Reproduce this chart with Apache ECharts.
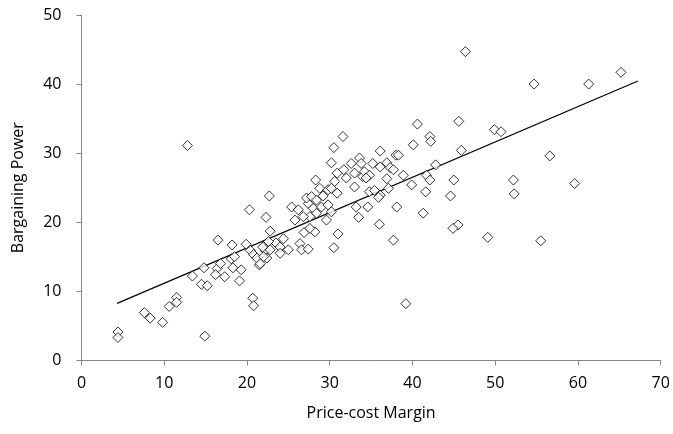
<!DOCTYPE html>
<html>
<head>
<meta charset="utf-8">
<script src="https://cdn.jsdelivr.net/npm/echarts@6/dist/echarts.min.js"></script>
<style>
  html, body { margin: 0; padding: 0; background: #fff; }
  #chart { width: 673px; height: 434px; }
</style>
</head>
<body>
<div id="chart"></div>
<script>
// price-cost margin (x) and bargaining power (y)
const margin = [
  4.4, 4.4, 7.6, 8.3, 9.8, 10.6, 11.5, 11.5, 12.8, 13.4,
  14.5, 15.2, 14.8, 14.9, 16.5, 16.4, 16.2, 17.3, 16.8, 18.2,
  18.1, 18.5, 18.3, 19.1, 19.3, 20.3, 19.9, 20.7, 20.8, 20.4,
  20.8, 21.2, 21.5, 22.2, 22.3, 22.7, 22.4, 22.8, 22.0, 21.6,
  22.8, 23.5, 22.6, 21.9, 24.4, 24.0, 24.0, 25.0, 26.4, 26.6,
  27.4, 26.9, 28.2, 27.6, 31.0, 30.5, 25.4, 26.2, 27.4, 28.0,
  29.0, 30.2, 29.8, 27.6, 28.4, 25.8, 26.8, 29.6, 27.2, 27.8,
  28.4, 29.2, 28.8, 29.8, 30.2, 30.9, 30.6, 28.3, 30.9, 30.2,
  30.5, 31.6, 31.7, 32.0, 32.6, 33.0, 33.6, 34.0, 33.0, 33.8,
  35.2, 36.1, 36.9, 37.3, 37.7, 34.2, 34.8, 34.4, 36.9, 36.1,
  38.0, 38.3, 34.8, 36.1, 35.9, 35.4, 37.1, 33.2, 34.6, 38.1,
  33.5, 36.0, 37.7, 39.2, 38.9, 39.9, 40.1, 40.6, 41.7, 42.1,
  41.6, 41.3, 42.1, 42.2, 42.8, 44.6, 45.0, 45.6, 45.9, 45.5,
  44.9, 46.4, 49.1, 49.9, 50.7, 52.2, 52.3, 54.7, 55.5, 56.6,
  59.6, 61.3, 65.2
];
const power = [
  4.1, 3.3, 6.9, 6.1, 5.5, 7.8, 9.1, 8.4, 31.1, 12.2,
  11.0, 10.8, 13.4, 3.5, 17.4, 13.3, 12.4, 12.1, 14.0, 16.7,
  14.7, 15.0, 13.4, 11.5, 13.1, 21.8, 16.8, 9.0, 7.9, 15.9,
  15.3, 14.8, 13.8, 15.9, 20.7, 23.8, 14.8, 18.7, 15.0, 14.0,
  16.0, 17.0, 17.2, 16.4, 17.6, 16.4, 15.5, 16.0, 16.9, 16.0,
  16.1, 18.5, 18.6, 19.1, 18.3, 16.3, 22.2, 21.8, 22.7, 22.0,
  22.2, 21.5, 22.5, 20.8, 21.3, 20.3, 20.8, 20.3, 23.5, 23.7,
  23.2, 23.8, 24.9, 24.7, 24.9, 24.2, 25.9, 26.1, 27.1, 28.6,
  30.8, 32.4, 27.6, 26.4, 28.5, 27.1, 29.3, 26.6, 25.1, 28.5,
  28.5, 28.0, 28.6, 27.9, 27.6, 27.3, 26.8, 26.4, 26.3, 30.3,
  29.7, 29.7, 24.4, 23.9, 23.6, 24.6, 24.9, 22.2, 22.2, 22.2,
  20.7, 19.7, 17.4, 8.2, 26.8, 25.4, 31.2, 34.2, 26.8, 26.1,
  24.4, 21.3, 32.4, 31.7, 28.3, 23.8, 26.1, 34.6, 30.4, 19.6,
  19.1, 44.7, 17.8, 33.4, 33.1, 26.1, 24.1, 40.0, 17.3, 29.6,
  25.6, 40.0, 41.7
];
// linear trend line end points
const trendX = [4.3, 67.25];
const trendY = [8.25, 40.45];

const points = margin.map((x, i) => [x, power[i]]);
const trend = trendX.map((x, i) => [x, trendY[i]]);

let myChart = echarts.init(document.getElementById('chart'));
const axisColor = '#868686';
const font = 'Open Sans';
const option = {
  animation: false,
  grid: {
    left: 81.5,
    right: 12.3,
    top: 15,
    bottom: 73.7
  },
  xAxis: {
    type: 'value',
    min: 0,
    max: 70,
    interval: 10,
    name: 'Price-cost Margin',
    nameLocation: 'middle',
    nameGap: 45,
    nameTextStyle: { color: '#000', fontSize: 16, fontFamily: font },
    splitLine: { show: false },
    axisLine: { show: true, lineStyle: { color: axisColor, width: 1 } },
    axisTick: { show: true, length: 5, lineStyle: { color: axisColor } },
    axisLabel: { color: '#000', fontSize: 16, fontFamily: font, margin: 15 }
  },
  yAxis: {
    type: 'value',
    min: 0,
    max: 50,
    interval: 10,
    name: 'Bargaining Power',
    nameLocation: 'middle',
    nameRotate: 90,
    nameGap: 55,
    nameTextStyle: { color: '#000', fontSize: 16, fontFamily: font },
    splitLine: { show: false },
    axisLine: { show: true, lineStyle: { color: axisColor, width: 1 } },
    axisTick: { show: true, length: 5, lineStyle: { color: axisColor } },
    axisLabel: { color: '#000', fontSize: 16, fontFamily: font, margin: 20 }
  },
  series: [
    {
      type: 'line',
      data: trend,
      showSymbol: false,
      lineStyle: { color: '#000', width: 1.2 },
      z: 1
    },
    {
      type: 'scatter',
      data: points,
      symbol: 'diamond',
      symbolSize: 10,
      itemStyle: { color: '#fff', borderColor: '#000', borderWidth: 1 },
      z: 2
    }
  ]
};
myChart.setOption(option);
</script>
</body>
</html>
